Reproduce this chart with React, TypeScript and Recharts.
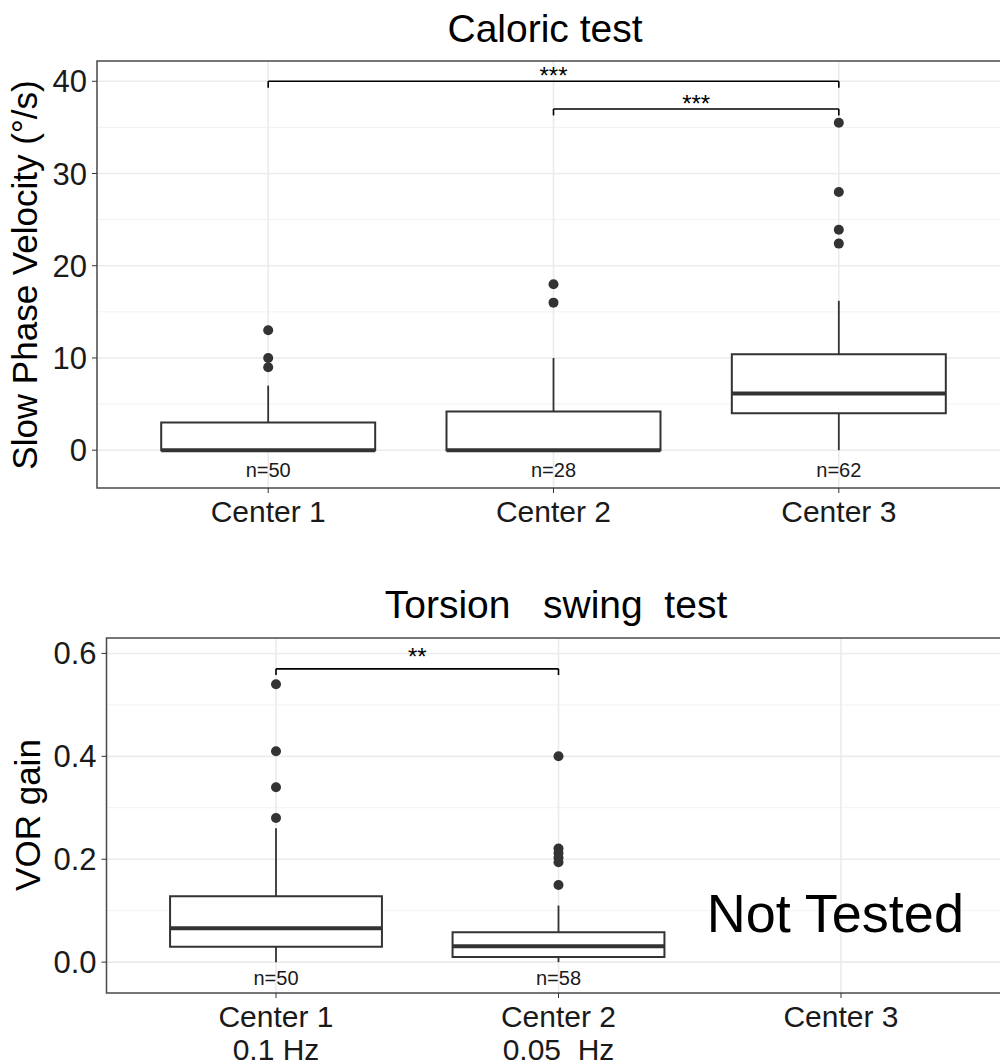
import React from 'react';
import {
  ComposedChart,
  XAxis,
  YAxis,
  CartesianGrid,
  ReferenceArea,
  ReferenceLine,
  Scatter,
} from 'recharts';

const FONT = '"Liberation Sans", Arial, Helvetica, sans-serif';

// ---- Caloric test (slow phase velocity, °/s)
const caloricCenters = [['Center 1'], ['Center 2'], ['Center 3']];
const caloricLow = [0, 0, 0];
const caloricQ1 = [0, 0, 4.0];
const caloricMedian = [0, 0, 6.15];
const caloricQ3 = [3.0, 4.2, 10.4];
const caloricHigh = [7, 10, 16.2];
const caloricOutliers = [[13, 10, 9], [18, 16], [35.5, 28, 23.9, 22.4]];
const caloricN = [50, 28, 62];
const caloricTicks = [0, 10, 20, 30, 40];
const caloricMinor = [5, 15, 25, 35];
const caloricBrackets = [
  { from: 1, to: 3, y: 40, label: '***' },
  { from: 2, to: 3, y: 37, label: '***' },
];

// ---- Torsion swing test (VOR gain)
const torsionCenters = [['Center 1', '0.1 Hz'], ['Center 2', '0.05  Hz'], ['Center 3']];
const torsionLow = [0, 0];
const torsionQ1 = [0.03, 0.01];
const torsionMedian = [0.066, 0.031];
const torsionQ3 = [0.128, 0.058];
const torsionHigh = [0.26, 0.11];
const torsionOutliers = [[0.54, 0.41, 0.34, 0.28], [0.4, 0.221, 0.212, 0.203, 0.194, 0.15]];
const torsionN = [50, 58];
const torsionTicks = [0, 0.2, 0.4, 0.6];
const torsionMinor = [0.1, 0.3, 0.5];
const torsionBrackets = [{ from: 1, to: 2, y: 0.57, label: '**' }];
const torsionNote = { x: 2.98, y: 0.097, text: 'Not Tested' };

const X_DOMAIN = [0.4, 3.6];
const HALF = 0.375;
const BOX = '#333333';

const XTick = (props: any) => {
  const { x, y, payload, lines } = props;
  const parts: string[] = lines[payload.value - 1] || [];
  return (
    <text x={x} y={y} textAnchor="middle" fontSize={30} fill="#1a1a1a" style={{ whiteSpace: 'pre' }}>
      {parts.map((p, k) => (
        <tspan key={k} x={x} dy={k === 0 ? 21.5 : 33}>
          {p}
        </tspan>
      ))}
    </text>
  );
};

const TextMark = (size: number, shift: number, color: string) => (p: any) => (
  <text
    x={p.cx}
    y={p.cy + shift}
    textAnchor="middle"
    fontSize={size}
    fill={color}
    fontFamily={FONT}
  >
    {p.payload.text}
  </text>
);

function BoxPanel(props: any) {
  const {
    width, height, margin, yWidth, domain, ticks, minor, fmt,
    low, q1, median, q3, high, outliers, n, brackets, drop, starLift, nY, tickLines, note,
  } = props;

  const idx = q1.map((_: number, i: number) => i + 1);
  const outlierPts = outliers.flatMap((vals: number[], i: number) => vals.map((v) => ({ x: i + 1, y: v })));
  const nPts = n.map((c: number, i: number) => ({ x: i + 1, y: nY, text: `n=${c}` }));
  const starPts = brackets.map((b: any) => ({ x: (b.from + b.to) / 2, y: b.y, text: b.label }));

  return (
    <ComposedChart width={width} height={height} margin={margin}>
      <CartesianGrid horizontalValues={minor} vertical={false} stroke="#f2f2f2" strokeWidth={1} />
      <CartesianGrid stroke="#ebebeb" strokeWidth={1.6} />
      <XAxis
        type="number"
        dataKey="x"
        domain={X_DOMAIN}
        allowDataOverflow
        ticks={[1, 2, 3]}
        interval={0}
        height={props.xHeight}
        tickSize={5}
        tickMargin={7}
        axisLine={false}
        tickLine={{ stroke: BOX }}
        tick={(tp: any) => <XTick {...tp} lines={tickLines} />}
      />
      <YAxis
        type="number"
        dataKey="y"
        domain={domain}
        allowDataOverflow
        ticks={ticks}
        interval={0}
        width={yWidth}
        tickSize={5}
        tickMargin={5}
        axisLine={false}
        tickLine={{ stroke: BOX }}
        tickFormatter={fmt}
        tick={{ fontSize: 31, fill: '#1a1a1a' }}
      />

      {idx.map((i: number) => (
        <ReferenceLine
          key={`wh${i}`}
          segment={[{ x: i, y: q3[i - 1] }, { x: i, y: high[i - 1] }]}
          stroke={BOX}
          strokeWidth={1.8}
        />
      ))}
      {idx
        .filter((i: number) => low[i - 1] < q1[i - 1])
        .map((i: number) => (
          <ReferenceLine
            key={`wl${i}`}
            segment={[{ x: i, y: low[i - 1] }, { x: i, y: q1[i - 1] }]}
            stroke={BOX}
            strokeWidth={1.8}
          />
        ))}
      {idx.map((i: number) => (
        <ReferenceArea
          key={`box${i}`}
          x1={i - HALF}
          x2={i + HALF}
          y1={q1[i - 1]}
          y2={q3[i - 1]}
          fill="#ffffff"
          fillOpacity={1}
          stroke={BOX}
          strokeWidth={2}
          ifOverflow="visible"
        />
      ))}
      {idx.map((i: number) => (
        <ReferenceLine
          key={`md${i}`}
          segment={[{ x: i - HALF, y: median[i - 1] }, { x: i + HALF, y: median[i - 1] }]}
          stroke={BOX}
          strokeWidth={4}
          ifOverflow="visible"
        />
      ))}

      {brackets.map((b: any, k: number) => (
        <ReferenceLine
          key={`bh${k}`}
          segment={[{ x: b.from, y: b.y }, { x: b.to, y: b.y }]}
          stroke="#000"
          strokeWidth={1.6}
        />
      ))}
      {brackets.flatMap((b: any, k: number) =>
        [b.from, b.to].map((xx: number, j: number) => (
          <ReferenceLine
            key={`bv${k}-${j}`}
            segment={[{ x: xx, y: b.y }, { x: xx, y: b.y - drop }]}
            stroke="#000"
            strokeWidth={1.6}
          />
        ))
      )}

      <Scatter
        data={outlierPts}
        isAnimationActive={false}
        shape={(p: any) => <circle cx={p.cx} cy={p.cy} r={5} fill={BOX} />}
      />
      <Scatter data={nPts} isAnimationActive={false} shape={TextMark(20, 7.2, '#1a1a1a')} />
      <Scatter data={starPts} isAnimationActive={false} shape={TextMark(24, 14 - starLift, '#000')} />
      {note && (
        <Scatter data={[note]} isAnimationActive={false} shape={TextMark(54, 19.3, '#000')} />
      )}

      <ReferenceArea
        x1={X_DOMAIN[0]}
        x2={X_DOMAIN[1]}
        y1={domain[0]}
        y2={domain[1]}
        fill="none"
        stroke="#4d4d4d"
        strokeWidth={1.5}
        ifOverflow="visible"
      />
    </ComposedChart>
  );
}

export default function App() {
  return (
    <div
      style={{
        position: 'absolute',
        left: 0,
        top: 0,
        width: 1000,
        height: 1064,
        overflow: 'hidden',
        background: '#fff',
        fontFamily: FONT,
      }}
    >
      <div style={{ position: 'absolute', left: 0, top: 0 }}>
        <BoxPanel
          width={1012}
          height={545}
          margin={{ top: 61, right: 2, bottom: 17, left: 37 }}
          yWidth={60}
          xHeight={40}
          domain={[-4.1, 42.2]}
          ticks={caloricTicks}
          minor={caloricMinor}
          fmt={(v: number) => String(v)}
          low={caloricLow}
          q1={caloricQ1}
          median={caloricMedian}
          q3={caloricQ3}
          high={caloricHigh}
          outliers={caloricOutliers}
          n={caloricN}
          brackets={caloricBrackets}
          drop={0.7}
          starLift={11}
          nY={-2.15}
          tickLines={caloricCenters}
        />
      </div>
      <div style={{ position: 'absolute', left: 0, top: 560 }}>
        <BoxPanel
          width={1012}
          height={504}
          margin={{ top: 78, right: 1.5, bottom: 0, left: 36.5 }}
          yWidth={70}
          xHeight={71}
          domain={[-0.06, 0.63]}
          ticks={torsionTicks}
          minor={torsionMinor}
          fmt={(v: number) => v.toFixed(1)}
          low={torsionLow}
          q1={torsionQ1}
          median={torsionMedian}
          q3={torsionQ3}
          high={torsionHigh}
          outliers={torsionOutliers}
          n={torsionN}
          brackets={torsionBrackets}
          drop={0.012}
          starLift={18}
          nY={-0.031}
          tickLines={torsionCenters}
          note={torsionNote}
        />
      </div>
      <svg
        width={1000}
        height={1064}
        style={{ position: 'absolute', left: 0, top: 0, pointerEvents: 'none' }}
        fontFamily={FONT}
      >
        <text x={545} y={42} textAnchor="middle" fontSize={39} fill="#000">
          Caloric test
        </text>
        <text x={556} y={618} textAnchor="middle" fontSize={39} fill="#000" style={{ whiteSpace: 'pre' }}>
          {'Torsion   swing  test'}
        </text>
        <text transform="rotate(-90)" x={-275} y={37} textAnchor="middle" fontSize={35} fill="#000">
          Slow Phase Velocity (°/s)
        </text>
        <text transform="rotate(-90)" x={-815} y={39.5} textAnchor="middle" fontSize={35} fill="#000">
          VOR gain
        </text>
      </svg>
    </div>
  );
}
